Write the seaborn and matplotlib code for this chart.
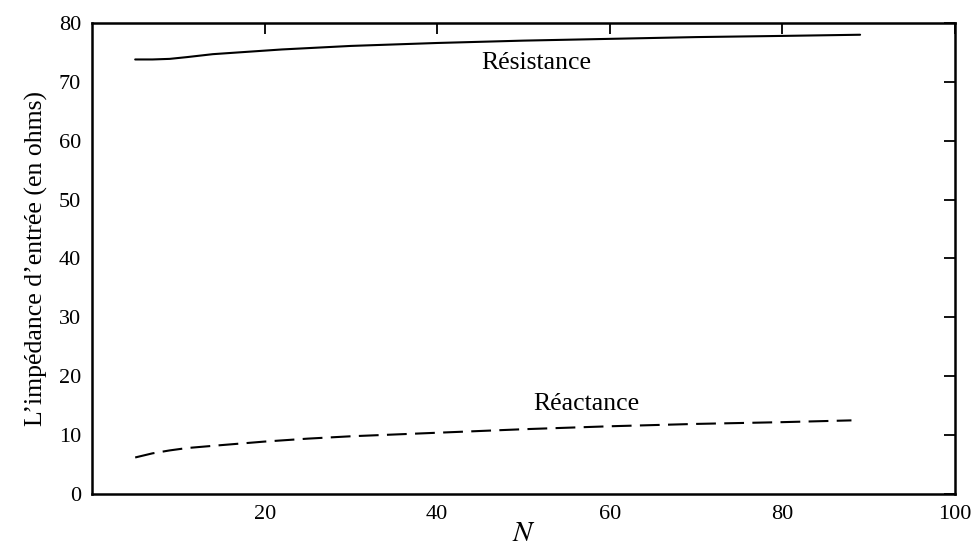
import matplotlib
matplotlib.use("Agg")
import matplotlib.pyplot as plt
import seaborn as sns
import pandas as pd

sns.set_theme(style="white")
plt.rcParams['font.family'] = ['Liberation Serif', 'DejaVu Serif']
plt.rcParams['mathtext.fontset'] = 'stix'
plt.rcParams['text.color'] = 'black'
plt.rcParams['axes.labelcolor'] = 'black'

# Data
n_res = [5, 7, 9, 11, 14, 18, 22, 26, 30, 40, 50, 60, 70, 80, 89]
resistance = [73.8, 73.8, 73.9, 74.2, 74.7, 75.1, 75.5, 75.8, 76.1, 76.6, 77.0, 77.3, 77.6, 77.8, 78.0]
n_rea = [5, 7, 9, 11, 15, 20, 25, 30, 40, 50, 60, 70, 80, 88]
reactance = [6.2, 6.9, 7.4, 7.8, 8.3, 8.9, 9.4, 9.8, 10.4, 11.0, 11.5, 11.9, 12.2, 12.5]
x_ticks = [20, 40, 60, 80, 100]
y_ticks = [0, 10, 20, 30, 40, 50, 60, 70, 80]

df = pd.concat([
    pd.DataFrame({"N": n_res, "val": resistance, "serie": "Résistance"}),
    pd.DataFrame({"N": n_rea, "val": reactance, "serie": "Réactance"}),
])

fig = plt.figure(figsize=(9.77, 5.6), dpi=100)
ax = fig.add_axes([0.0942, 0.1179, 0.8833, 0.8411])

sns.lineplot(data=df, x="N", y="val", style="serie", color="black",
             dashes={"Résistance": "", "Réactance": (9.5, 4)},
             linewidth=1.5, legend=False, ax=ax, estimator=None)

ax.set_xlim(0, 100)
ax.set_ylim(0, 80)
ax.set_xticks(x_ticks)
ax.set_yticks(y_ticks)
ax.tick_params(direction="in", length=8, width=1.3, top=True, right=True,
               labelsize=16, colors="black")
ax.tick_params(axis="y", pad=8)
ax.tick_params(axis="x", pad=8)
for s in ax.spines.values():
    s.set_linewidth(1.8)
    s.set_color("black")

ax.set_xlabel("$N$", fontsize=21, labelpad=-2)
ax.set_ylabel("L’impédance d’entrée (en ohms)", fontsize=18.5, labelpad=8)

ax.text(51.5, 73.2, "Résistance", fontsize=18.5, ha="center", va="center")
ax.text(57.3, 15.3, "Réactance", fontsize=18.5, ha="center", va="center")

fig.savefig("out.png", dpi=100)
